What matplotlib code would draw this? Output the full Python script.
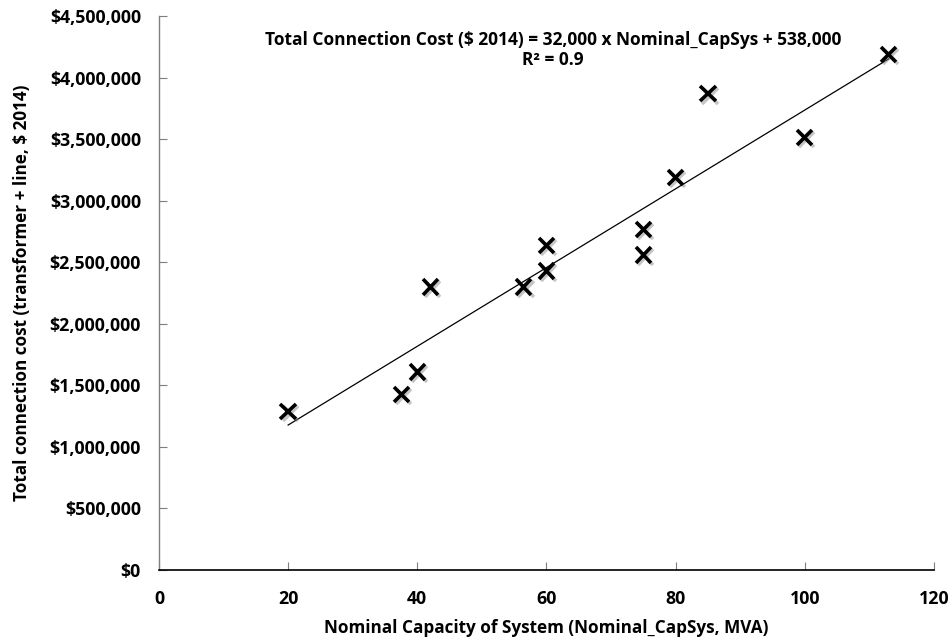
import numpy as np
import matplotlib
matplotlib.use('Agg')
import matplotlib.pyplot as plt
import matplotlib.patheffects as pe
from matplotlib.ticker import FuncFormatter

# data
capacity_mva = [20, 37.5, 40, 42, 56.5, 60, 60, 75, 75, 80, 85, 100, 113]
cost_usd = [1290000, 1425000, 1610000, 2300000, 2300000, 2430000, 2640000,
            2560000, 2770000, 3190000, 3870000, 3515000, 4190000]

# trendline as printed on the chart
slope = 32000
intercept = 538000
r_squared = 0.9

plt.rcParams['font.family'] = ['Open Sans', 'DejaVu Sans']
plt.rcParams['font.weight'] = 'bold'

fig = plt.figure(figsize=(9.53, 6.37), dpi=100)
ax = fig.add_axes([0.1668, 0.1052, 0.8132, 0.8692])

# trendline over the range of the data
x_fit = np.array([min(capacity_mva), max(capacity_mva)])
ax.plot(x_fit, slope * x_fit + intercept, color='black', linewidth=0.9)

ax.plot(capacity_mva, cost_usd, linestyle='none', marker='x', markersize=11,
        markeredgewidth=2.6, color='black',
        path_effects=[pe.SimpleLineShadow(offset=(1.5, -1.5), shadow_color='gray', alpha=0.45),
                      pe.Normal()])

ax.set_xlim(0, 120)
ax.set_ylim(0, 4500000)
ax.set_xticks(range(0, 121, 20))
ax.set_yticks(np.arange(0, 4500001, 500000))
ax.yaxis.set_major_formatter(FuncFormatter(lambda v, p: f"${v:,.0f}"))

for side in ['top', 'right']:
    ax.spines[side].set_visible(False)
ax.spines['left'].set_color('#7f7f7f')
ax.spines['bottom'].set_color('black')
ax.spines['left'].set_linewidth(1.0)
ax.spines['bottom'].set_linewidth(1.2)

ax.tick_params(axis='y', direction='in', length=6, color='#7f7f7f', pad=13, labelsize=12.8)
ax.tick_params(axis='x', direction='in', length=6, color='#7f7f7f', pad=14.5, labelsize=12.8)
for lbl in ax.get_xticklabels() + ax.get_yticklabels():
    lbl.set_fontweight('bold')

ax.set_xlabel("Nominal Capacity of System (Nominal_CapSys, MVA)", fontsize=12.3,
              fontweight='bold', labelpad=8)
ax.set_ylabel("Total connection cost (transformer + line, $ 2014)", fontsize=12.3,
              fontweight='bold', labelpad=13)

ax.text(0.5085, 0.939,
        f"Total Connection Cost ($ 2014) = {slope:,} x Nominal_CapSys + {intercept:,}\n"
        f"R\u00b2 = {r_squared}",
        transform=ax.transAxes, ha='center', va='center', fontsize=12.5,
        fontweight='bold', linespacing=1.2)

fig.savefig('out.png', dpi=100)
